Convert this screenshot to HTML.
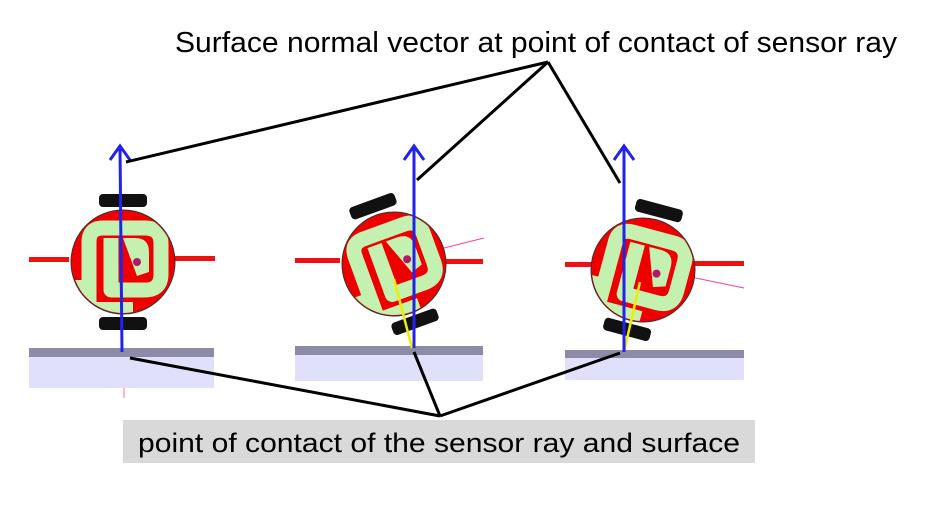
<!DOCTYPE html>
<html><head><meta charset="utf-8"><style>
html,body{margin:0;padding:0;background:#fff;width:945px;height:517px;overflow:hidden}
svg{display:block}
</style></head><body>
<svg width="945" height="517" viewBox="0 0 945 517" xmlns="http://www.w3.org/2000/svg">
<defs>
<clipPath id="disc"><circle r="51"/></clipPath>
<g id="robot">
  <rect x="-24" y="-68" width="48" height="13" rx="4" fill="#111"/>
  <rect x="-24" y="55" width="48" height="13" rx="4" fill="#111"/>
  <circle r="52" fill="#ee0000" stroke="#333" stroke-width="1"/>
  <g clip-path="url(#disc)">
    <path d="M-34,60 L-34,-20 Q-34,-34 -20,-34 L22,-34 Q38,-34 38,-18 L38,12 Q38,28 22,28 L-12,28 L-12,-24" fill="none" stroke="#c4f0b0" stroke-width="15" stroke-linejoin="round"/>
    <path d="M0,-24 L12,-24 Q26,-24 26,-10 L26,10 L14,14 Z" fill="#c4f0b0"/>
    <path d="M-55,18 L-40,18 L-40,60 L-55,60 Z" fill="#c4f0b0"/>
    <path d="M-40,40 L10,40 L10,60 L-40,60 Z" fill="#c4f0b0"/>
  </g>
  <circle cx="14" cy="0" r="4" fill="#b0186a"/>
</g>
</defs>

<text x="175" y="52" font-family="Liberation Sans, sans-serif" font-size="29" textLength="722" lengthAdjust="spacingAndGlyphs" fill="#000">Surface normal vector at point of contact of sensor ray</text>

<g>
  <rect x="29" y="348" width="185" height="9" fill="#8c8ca8"/>
  <rect x="29" y="357" width="185" height="31" fill="#e0e0fb"/>
  <line x1="124" y1="388" x2="124" y2="398" stroke="#ee77aa" stroke-width="1"/>
  <rect x="29" y="257" width="40" height="5" fill="#ee1111"/>
  <rect x="175" y="256" width="40" height="5" fill="#ee1111"/>
  <use href="#robot" x="123" y="262"/>
  <line x1="122" y1="352" x2="120" y2="147" stroke="#2222ee" stroke-width="3"/>
  <polyline points="110,160 120,146 130,160" fill="none" stroke="#2222ee" stroke-width="3"/>
</g>

<g>
  <rect x="295" y="346" width="188" height="9" fill="#8c8ca8"/>
  <rect x="295" y="355" width="188" height="26" fill="#e0e0fb"/>
  <rect x="295" y="258" width="45" height="5" fill="#ee1111"/>
  <rect x="443" y="259" width="40" height="5" fill="#ee1111"/>
  <line x1="432" y1="251" x2="484" y2="238" stroke="#ee44aa" stroke-width="1"/>
  <use href="#robot" x="394" y="264" transform="rotate(-20 394 264)"/>
  <line x1="394" y1="279" x2="412" y2="348" stroke="#eeee00" stroke-width="2.5"/>
  <line x1="414" y1="348" x2="414" y2="147" stroke="#2222ee" stroke-width="3"/>
  <polyline points="404,160 414,146 424,160" fill="none" stroke="#2222ee" stroke-width="3"/>
</g>

<g>
  <rect x="565" y="350" width="179" height="8" fill="#8c8ca8"/>
  <rect x="565" y="358" width="179" height="22" fill="#e0e0fb"/>
  <rect x="565" y="262" width="35" height="5" fill="#ee1111"/>
  <rect x="692" y="261" width="52" height="5" fill="#ee1111"/>
  <line x1="686" y1="276" x2="744" y2="288" stroke="#ee44aa" stroke-width="1"/>
  <use href="#robot" x="643" y="270" transform="rotate(15 643 270)"/>
  <line x1="640" y1="282" x2="624" y2="352" stroke="#eeee00" stroke-width="2.5"/>
  <line x1="624" y1="352" x2="624" y2="147" stroke="#2222ee" stroke-width="3"/>
  <polyline points="614,160 624,146 634,160" fill="none" stroke="#2222ee" stroke-width="3"/>
</g>

<g stroke="#000" stroke-width="3" fill="none">
  <line x1="548" y1="62" x2="126" y2="162"/>
  <line x1="548" y1="62" x2="417" y2="180"/>
  <line x1="548" y1="62" x2="620" y2="183"/>
  <line x1="440" y1="416" x2="130" y2="358"/>
  <line x1="440" y1="416" x2="414" y2="352"/>
  <line x1="440" y1="416" x2="620" y2="353"/>
</g>

<rect x="123" y="420" width="632" height="43" fill="#d9d9d9"/>
<text x="138" y="452" font-family="Liberation Sans, sans-serif" font-size="27" textLength="602" lengthAdjust="spacingAndGlyphs" fill="#000">point of contact of the sensor ray and surface</text>
</svg>
</body></html>
